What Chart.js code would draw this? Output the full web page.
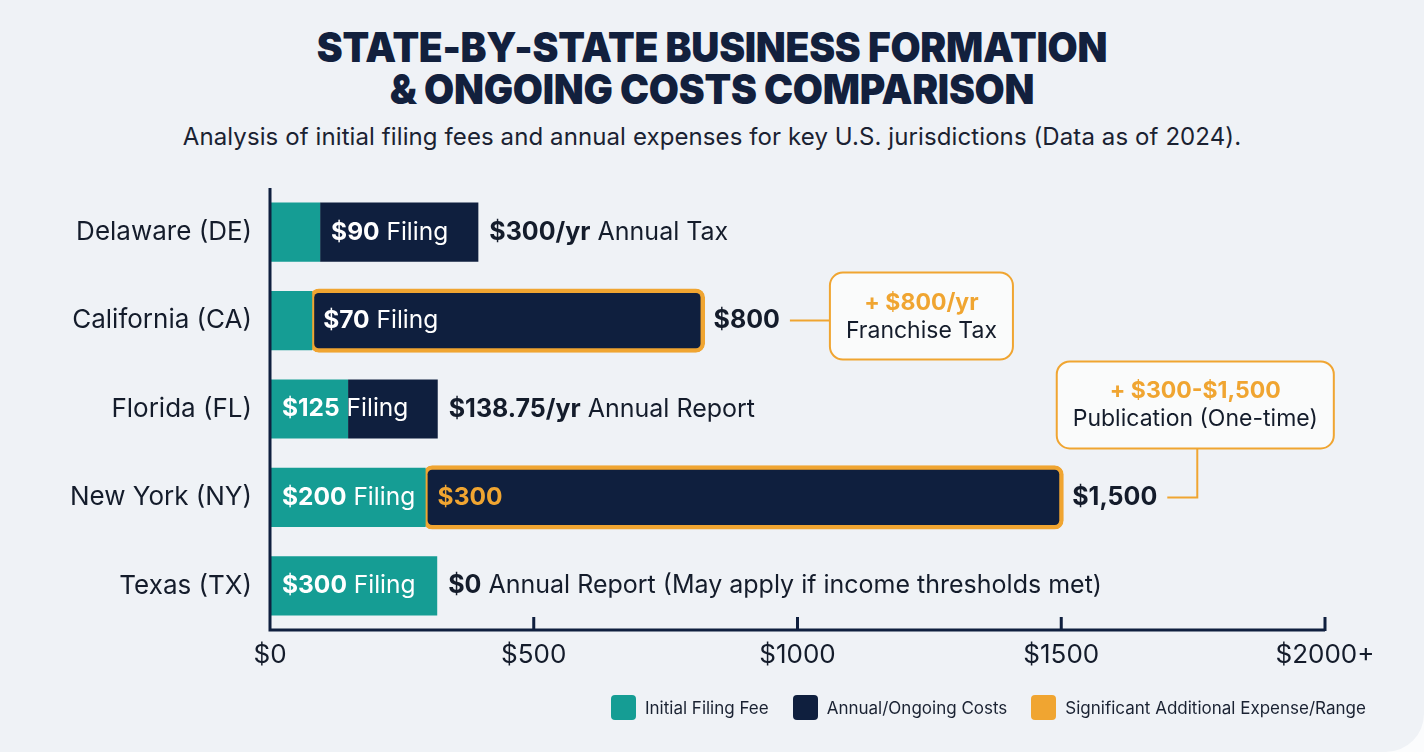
<!DOCTYPE html>
<html lang="en">
<head>
<meta charset="UTF-8">
<title>State-by-State Business Formation &amp; Ongoing Costs Comparison</title>
<style>
  html, body { margin: 0; padding: 0; background: #fbfcfd; }
  .card {
    position: relative; width: 1424px; height: 752px; overflow: hidden;
    background: #eff2f6; border-radius: 0 0 38px 0;
    font-family: Inter, "Noto Sans", sans-serif; color: #141c2b;
  }
  h1 {
    position: absolute; top: 26px; left: 0; width: 100%; margin: 0;
    text-align: center; font-size: 41px; line-height: 42px; font-weight: 900;
    color: #12203d; letter-spacing: -0.3px; transform: scaleX(0.95);
  }
  .sub {
    position: absolute; top: 123px; left: 0; width: 100%;
    text-align: center; font-size: 24px; line-height: 28px; color: #1a2232;
    letter-spacing: 0.1px;
  }
  canvas { position: absolute; left: 0; top: 0; }
  .legend {
    position: absolute; top: 695px; left: 611px;
    display: flex; align-items: center; font-size: 17px; color: #1a2232;
  }
  .legend .item { display: flex; align-items: center; margin-right: 24px; }
  .legend .box { width: 25px; height: 25px; border-radius: 4px; margin-right: 9px; }
</style>
</head>
<body>
<div class="card">
  <h1>STATE-BY-STATE BUSINESS FORMATION<br>&amp; ONGOING COSTS COMPARISON</h1>
  <div class="sub">Analysis of initial filing fees and annual expenses for key U.S. jurisdictions (Data as of 2024).</div>
  <canvas id="costChart" width="1424" height="752"></canvas>
  <div class="legend" id="legend"></div>
</div>

<script src="https://cdn.jsdelivr.net/npm/chart.js"></script>
<script>
  // values (bar lengths in $)
  const states = ['Delaware (DE)', 'California (CA)', 'Florida (FL)', 'New York (NY)', 'Texas (TX)'];
  const filingFee = [95, 80, 148, 295, 317];
  const annualCost = [300, 740, 170, 1205, 0];
  const highlighted = [false, true, false, true, false];

  // text shown on and next to the bars
  const filingText = ['$90', '$70', '$125', '$200', '$300'];
  const annualInside = ['', '', '', '$300', ''];
  const totalBold = ['$300/yr', '$800', '$138.75/yr', '$1,500', '$0'];
  const totalRest = [' Annual Tax', '', ' Annual Report', '', ' Annual Report (May apply if income thresholds met)'];
  const calloutHead = ['', '+ $800/yr', '', '+ $300-$1,500', ''];
  const calloutBody = ['', 'Franchise Tax', '', 'Publication (One-time)', ''];

  const xTicks = [0, 500, 1000, 1500, 2000];
  const legendLabels = ['Initial Filing Fee', 'Annual/Ongoing Costs', 'Significant Additional Expense/Range'];

  const TEAL = '#159d94';
  const NAVY = '#0f1f3e';
  const ORANGE = '#f0a531';
  const TEXT = '#141c2b';
  const FONT = 'Inter, "Noto Sans", sans-serif';

  // legend
  const legendEl = document.getElementById('legend');
  [TEAL, NAVY, ORANGE].forEach((c, i) => {
    const item = document.createElement('div');
    item.className = 'item';
    item.innerHTML = '<span class="box" style="background:' + c + '"></span>' + legendLabels[i];
    legendEl.appendChild(item);
  });

  // draws "bold part" + "regular part" starting at x, returns end x
  const drawParts = (ctx, x, y, parts) => {
    parts.forEach(p => {
      if (!p.text) return;
      ctx.font = (p.bold ? '700 ' : '400 ') + p.size + 'px ' + FONT;
      ctx.fillStyle = p.color;
      ctx.fillText(p.text, x, y);
      x += ctx.measureText(p.text).width;
    });
    return x;
  };

  const roundRect = (ctx, x, y, w, h, r) => {
    ctx.beginPath();
    ctx.moveTo(x + r, y);
    ctx.arcTo(x + w, y, x + w, y + h, r);
    ctx.arcTo(x + w, y + h, x, y + h, r);
    ctx.arcTo(x, y + h, x, y, r);
    ctx.arcTo(x, y, x + w, y, r);
    ctx.closePath();
  };

  const calloutWidth = (ctx, head, body) => {
    ctx.font = '700 23px ' + FONT;
    const w1 = ctx.measureText(head).width;
    ctx.font = '400 23px ' + FONT;
    const w2 = ctx.measureText(body).width;
    return Math.max(w1, w2) + 32;
  };

  const drawCallout = (ctx, cx, top, head, body) => {
    const w = calloutWidth(ctx, head, body);
    const h = 87;
    roundRect(ctx, cx - w / 2, top, w, h, 13);
    ctx.fillStyle = '#fafbfb';
    ctx.fill();
    ctx.strokeStyle = ORANGE;
    ctx.lineWidth = 2;
    ctx.stroke();
    ctx.textAlign = 'center';
    ctx.font = '700 23px ' + FONT;
    ctx.fillStyle = ORANGE;
    ctx.fillText(head, cx, top + 30);
    ctx.font = '400 23px ' + FONT;
    ctx.fillStyle = TEXT;
    ctx.fillText(body, cx, top + 58);
    ctx.textAlign = 'left';
  };

  const overlay = {
    id: 'overlay',
    afterDatasetsDraw(chart) {
      const { ctx, chartArea: a, scales: { x } } = chart;
      const filingMeta = chart.getDatasetMeta(0).data;
      const annualMeta = chart.getDatasetMeta(1).data;
      ctx.save();

      // axes with upward tick marks
      ctx.strokeStyle = NAVY;
      ctx.lineWidth = 3;
      ctx.beginPath();
      ctx.moveTo(a.left, a.top);
      ctx.lineTo(a.left, a.bottom);
      ctx.lineTo(a.right, a.bottom);
      xTicks.forEach(v => {
        if (v === 0) return;
        const px = x.getPixelForValue(v);
        ctx.moveTo(px, a.bottom + 1);
        ctx.lineTo(px, a.bottom - 13);
      });
      ctx.stroke();

      ctx.textBaseline = 'middle';
      states.forEach((s, i) => {
        const f = filingMeta[i].getProps(['x', 'base', 'y'], true);
        const n = annualMeta[i].getProps(['x', 'base', 'y'], true);
        const y = f.y;

        // filing label: inside teal if it fits, otherwise inside navy
        const startX = (f.x - f.base) < 60 ? n.base + 11 : f.base + 12;
        drawParts(ctx, startX, y, [
          { text: filingText[i], bold: true, size: 24.5, color: '#ffffff' },
          { text: ' Filing', bold: false, size: 24.5, color: '#ffffff' }
        ]);
        if (annualInside[i]) {
          drawParts(ctx, n.base + 12, y, [{ text: annualInside[i], bold: true, size: 24.5, color: ORANGE }]);
        }

        // total label right of the bar
        const endX = Math.max(f.x, n.x) + 11;
        const labelEnd = drawParts(ctx, endX, y, [
          { text: totalBold[i], bold: true, size: 25, color: TEXT },
          { text: totalRest[i], bold: false, size: 25, color: TEXT }
        ]);

        if (!calloutHead[i]) return;
        ctx.strokeStyle = ORANGE;
        ctx.lineWidth = 2;
        const lineStart = labelEnd + 10;
        if (x.getValueForPixel(labelEnd) < 1200) {
          // box to the right of the label
          const w = calloutWidth(ctx, calloutHead[i], calloutBody[i]);
          ctx.beginPath();
          ctx.moveTo(lineStart, y);
          ctx.lineTo(lineStart + 40, y);
          ctx.stroke();
          drawCallout(ctx, lineStart + 40 + w / 2, y - 48, calloutHead[i], calloutBody[i]);
        } else {
          // box above, joined by an elbow line
          const elbowX = lineStart + 30;
          const boxTop = y - 49 - 87;
          ctx.beginPath();
          ctx.moveTo(lineStart, y);
          ctx.lineTo(elbowX, y);
          ctx.lineTo(elbowX, boxTop + 87);
          ctx.stroke();
          drawCallout(ctx, elbowX - 2, boxTop, calloutHead[i], calloutBody[i]);
        }
        ctx.textBaseline = 'middle';
      });
      ctx.restore();
    }
  };

  const corner = { topLeft: 9, topRight: 9, bottomLeft: 9, bottomRight: 9 };

  new Chart(document.getElementById('costChart'), {
    type: 'bar',
    data: {
      labels: states,
      datasets: [{
        label: legendLabels[0],
        data: filingFee,
        backgroundColor: TEAL,
        borderWidth: 0
      }, {
        label: legendLabels[1],
        data: annualCost,
        backgroundColor: NAVY,
        borderColor: ORANGE,
        borderWidth: c => highlighted[c.dataIndex] ? 4.5 : 0,
        borderRadius: c => highlighted[c.dataIndex] ? corner : 0,
        borderSkipped: false,
        inflateAmount: c => highlighted[c.dataIndex] ? 2.5 : 'auto'
      }]
    },
    options: {
      indexAxis: 'y',
      responsive: false,
      animation: false,
      categoryPercentage: 1,
      barPercentage: 0.67,
      layout: { padding: { top: 188, right: 99, bottom: 82, left: 0 } },
      plugins: {
        legend: { display: false },
        tooltip: { enabled: false }
      },
      scales: {
        x: {
          stacked: true,
          min: 0,
          max: 2000,
          afterBuildTicks: s => { s.ticks = xTicks.map(v => ({ value: v })); },
          afterFit: s => { s.height = 40; },
          grid: { display: false, drawTicks: false },
          border: { display: false },
          ticks: {
            padding: 10,
            color: TEXT,
            font: { family: FONT, size: 26 },
            callback: v => v === 2000 ? '$2000+' : '$' + v
          }
        },
        y: {
          stacked: true,
          afterFit: s => { s.width = 270; },
          grid: { display: false, drawTicks: false },
          border: { display: false },
          ticks: {
            padding: 18,
            color: TEXT,
            font: { family: FONT, size: 26 }
          }
        }
      }
    },
    plugins: [overlay]
  });
</script>
</body>
</html>
